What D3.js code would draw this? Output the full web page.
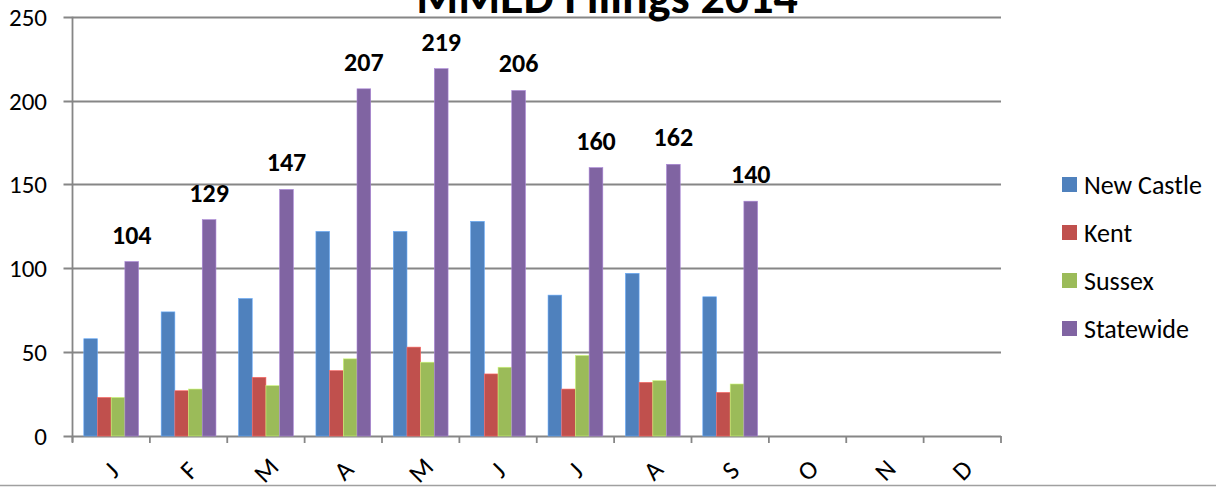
<!DOCTYPE html>
<html>
<head>
<meta charset="utf-8">
<script src="https://cdn.jsdelivr.net/npm/d3@7"></script>
<style>
  html, body { margin: 0; padding: 0; background: #fff; overflow: hidden; }
  svg { display: block; }
  text { font-family: Carlito, Calibri, Lato, "Open Sans", sans-serif; }
</style>
</head>
<body>
<svg id="chart" width="1216" height="487"></svg>
<script>
// ---- data ----
const title = "MMED Filings 2014";
const months = ["J", "F", "M", "A", "M", "J", "J", "A", "S", "O", "N", "D"];
const seriesNames = ["New Castle", "Kent", "Sussex", "Statewide"];
const newCastle = [58, 74, 82, 122, 122, 128, 84, 97, 83, null, null, null];
const kent      = [23, 27, 35, 39, 53, 37, 28, 32, 26, null, null, null];
const sussex    = [23, 28, 30, 46, 44, 41, 48, 33, 31, null, null, null];
const statewide = [104, 129, 147, 207, 219, 206, 160, 162, 140, null, null, null];
const yTicks = [0, 50, 100, 150, 200, 250];

// ---- style ----
const colors = ["#4F81BD", "#C0504D", "#9BBB59", "#8064A2"];
const gridColor = "#868686";

const svg = d3.select("#chart");
const W = 1216, H = 487;
const plotL = 72.5, plotR = 1001, plotT = 16.7, plotB = 436;

const seriesValues = [newCastle, kent, sussex, statewide];
const idx = months.map((m, i) => i);

const x = d3.scaleBand().domain(idx).range([plotL, plotR]).paddingInner(0).paddingOuter(0);
const bw = x.bandwidth();
const pad = bw * 0.146;
const xs = d3.scaleBand().domain(d3.range(seriesNames.length)).range([pad, bw - pad]).paddingInner(0);
const y = d3.scaleLinear().domain([0, 250]).range([plotB, plotT]);

// gridlines (extend left as tick marks)
svg.append("g").selectAll("line").data(yTicks).join("line")
  .attr("x1", plotL - 9).attr("x2", plotR)
  .attr("y1", d => Math.round(y(d)) + 0.5).attr("y2", d => Math.round(y(d)) + 0.5)
  .attr("stroke", gridColor).attr("stroke-width", 1.8);

// y axis line
svg.append("line")
  .attr("x1", plotL).attr("x2", plotL).attr("y1", plotT).attr("y2", plotB + 6)
  .attr("stroke", gridColor).attr("stroke-width", 1.8);

// x category tick marks
const boundaries = d3.range(months.length + 1).map(i => plotL + i * bw);
svg.append("g").selectAll("line").data(boundaries).join("line")
  .attr("x1", d => d).attr("x2", d => d)
  .attr("y1", plotB).attr("y2", plotB + 7)
  .attr("stroke", gridColor).attr("stroke-width", 1.8);

// y tick labels
svg.append("g").selectAll("text").data(yTicks).join("text")
  .attr("x", 47).attr("y", d => y(d))
  .attr("dy", "0.36em")
  .attr("text-anchor", "end")
  .attr("font-size", 25)
  .attr("fill", "#000")
  .text(d => d);

// bars
const barData = [];
seriesValues.forEach((vals, s) => vals.forEach((v, i) => { if (v != null) barData.push({ s, i, v }); }));
svg.append("g").selectAll("rect").data(barData).join("rect")
  .attr("x", d => x(d.i) + xs(d.s))
  .attr("y", d => y(d.v))
  .attr("width", xs.bandwidth())
  .attr("height", d => plotB - y(d.v))
  .attr("fill", d => colors[d.s])
  .attr("stroke", d => d3.color(colors[d.s]).brighter(0.8))
  .attr("stroke-width", 0.6);

// data labels on Statewide
const sIdx = 3;
svg.append("g").selectAll("text").data(statewide.map((v, i) => ({ v, i })).filter(d => d.v != null)).join("text")
  .attr("x", d => x(d.i) + xs(sIdx) + xs.bandwidth() / 2)
  .attr("y", d => y(d.v) - 18)
  .attr("text-anchor", "middle")
  .attr("font-size", 26)
  .attr("font-weight", "bold")
  .attr("fill", "#000")
  .text(d => d.v);

// x labels rotated
svg.append("g").selectAll("text").data(idx).join("text")
  .attr("transform", d => `translate(${x(d) + bw / 2},${470}) rotate(-45)`)
  .attr("text-anchor", "middle")
  .attr("dy", "0.35em")
  .attr("font-size", 26)
  .attr("fill", "#000")
  .text(d => months[d]);

// title
svg.append("text")
  .attr("x", 607).attr("y", 13)
  .attr("text-anchor", "middle")
  .attr("font-size", 48)
  .attr("font-weight", "bold")
  .attr("fill", "#000")
  .text(title);

// legend
const lg = svg.append("g").attr("transform", "translate(1062,177)");
const items = lg.selectAll("g").data(seriesNames).join("g")
  .attr("transform", (d, i) => `translate(0,${i * 48})`);
items.append("rect").attr("width", 15).attr("height", 15).attr("fill", (d, i) => colors[i]);
items.append("text").attr("x", 22).attr("y", 7.5).attr("dy", "0.36em")
  .attr("font-size", 26).attr("fill", "#000").text(d => d);

// bottom border
svg.append("line").attr("x1", 0).attr("x2", W).attr("y1", 485.5).attr("y2", 485.5)
  .attr("stroke", "#a0a0a0").attr("stroke-width", 1.5);
</script>
</body>
</html>
